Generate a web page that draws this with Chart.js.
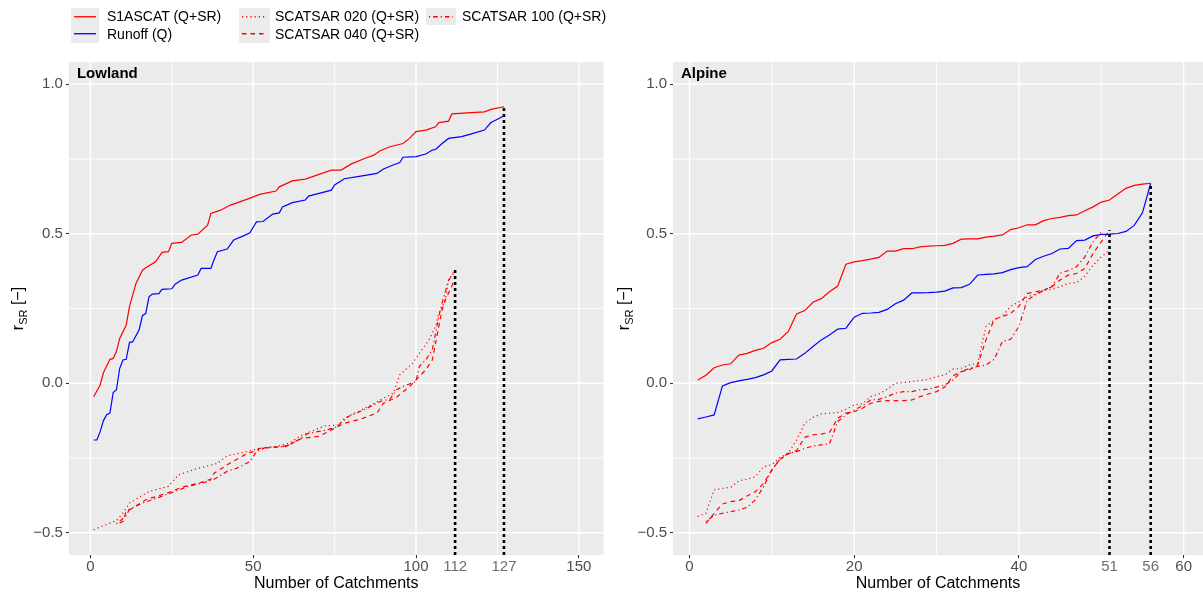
<!DOCTYPE html>
<html>
<head>
<meta charset="utf-8">
<script src="https://cdn.jsdelivr.net/npm/chart.js@4/dist/chart.umd.min.js"></script>
<style>
  html, body { margin: 0; padding: 0; background: #fff; }
  #wrap { position: relative; width: 1203px; height: 597px; overflow: hidden;
          font-family: "Liberation Sans", Arial, sans-serif; }
  #cl { position: absolute; left: 0; top: 0; }
  #cr { position: absolute; left: 607px; top: 0; }
  .key { position: absolute; background: #ebebeb; }
  .lab { position: absolute; font-size: 14px; line-height: 18px; color: #000; white-space: nowrap; }
</style>
</head>
<body>
<div id="wrap">
  <canvas id="cl" width="607" height="597" style="width:607px;height:597px"></canvas>
  <canvas id="cr" width="596" height="597" style="width:596px;height:597px"></canvas>
  <div id="legend"></div>
</div>
<script>
// ---------------- Lowland catchments (rank, r_SR) ----------------
const lowlandS1ascatN = [1,3,4,6,7,8,9,11,12,14,16,17,20,22,24,25,28,31,33,36,37,40,43,48,52,57,58,62,66,74,77,80,84,87,89,92,96,98,100,103,106,107,110,111,117,121,123,127];
const lowlandS1ascat  = [-0.045,-0.006,0.035,0.080,0.083,0.106,0.150,0.195,0.256,0.334,0.378,0.386,0.406,0.438,0.440,0.468,0.471,0.496,0.499,0.529,0.568,0.579,0.596,0.615,0.632,0.643,0.657,0.677,0.683,0.713,0.713,0.733,0.751,0.763,0.778,0.791,0.802,0.819,0.842,0.847,0.858,0.872,0.877,0.901,0.905,0.908,0.916,0.925];

const lowlandRunoffN = [1,2,3,4,5,6,7,8,9,10,11,12,13,15,16,17,18,19,21,22,25,26,28,33,34,37,38,39,42,44,47,49,51,53,56,58,59,62,66,67,72,74,75,78,83,88,90,93,95,96,100,103,105,106,108,110,114,117,121,123,125,127];
const lowlandRunoff  = [-0.190,-0.190,-0.162,-0.125,-0.105,-0.100,-0.031,-0.022,0.050,0.078,0.080,0.136,0.139,0.180,0.227,0.233,0.289,0.298,0.300,0.314,0.316,0.331,0.345,0.362,0.384,0.384,0.414,0.440,0.449,0.479,0.493,0.503,0.540,0.541,0.566,0.570,0.590,0.604,0.613,0.626,0.640,0.646,0.663,0.684,0.693,0.702,0.717,0.730,0.738,0.756,0.758,0.767,0.780,0.782,0.802,0.819,0.825,0.834,0.847,0.872,0.883,0.895];

const lowlandSar020N = [1,8,10,12,18,24,27,32,39,42,48,52,57,61,65,72,76,80,85,90,93,95,99,101,104,106,107,109,110,112];
const lowlandSar020  = [-0.490,-0.459,-0.435,-0.401,-0.362,-0.345,-0.307,-0.288,-0.268,-0.243,-0.229,-0.218,-0.212,-0.201,-0.173,-0.143,-0.140,-0.106,-0.080,-0.050,-0.034,0.028,0.067,0.100,0.145,0.190,0.234,0.279,0.345,0.379];

const lowlandSar040N = [9,10,11,13,17,24,28,33,37,38,42,48,50,52,59,61,65,70,75,78,83,88,90,94,98,100,103,105,106,107,108,109,110,111,112];
const lowlandSar040  = [-0.467,-0.463,-0.428,-0.418,-0.390,-0.366,-0.348,-0.335,-0.321,-0.301,-0.273,-0.236,-0.229,-0.218,-0.212,-0.206,-0.184,-0.178,-0.151,-0.134,-0.120,-0.100,-0.067,-0.047,-0.011,0.011,0.045,0.078,0.134,0.190,0.245,0.279,0.302,0.324,0.357];

const lowlandSar100N = [8,11,12,16,20,26,30,35,38,42,45,49,51,54,60,63,67,72,76,78,84,89,92,94,96,100,101,103,105,106,107,108,110,112];
const lowlandSar100  = [-0.470,-0.444,-0.421,-0.401,-0.386,-0.362,-0.345,-0.332,-0.321,-0.295,-0.284,-0.262,-0.229,-0.214,-0.212,-0.195,-0.167,-0.158,-0.145,-0.117,-0.089,-0.061,-0.053,-0.022,-0.011,0.006,0.056,0.078,0.112,0.167,0.223,0.268,0.345,0.373];

const lowlandCountSar = 112;   // catchments covered by SCATSAR
const lowlandCountAll = 127;   // catchments covered by S1ASCAT / runoff

// ---------------- Alpine catchments (values by rank) ----------------
const alpineS1ascat = [0.011,0.027,0.052,0.061,0.065,0.094,0.100,0.110,0.117,0.136,
  0.147,0.173,0.232,0.243,0.271,0.283,0.306,0.325,0.398,0.406,
  0.410,0.415,0.421,0.442,0.442,0.450,0.450,0.456,0.459,0.460,
  0.461,0.468,0.482,0.483,0.483,0.489,0.492,0.496,0.514,0.520,
  0.530,0.530,0.544,0.551,0.555,0.561,0.563,0.577,0.590,0.606,
  0.613,0.633,0.652,0.662,0.666,0.669];
const alpineRunoff = [-0.119,-0.113,-0.106,-0.009,0.002,0.008,0.013,0.019,0.028,0.041,
  0.078,0.080,0.081,0.100,0.123,0.145,0.161,0.181,0.184,0.221,
  0.234,0.235,0.237,0.247,0.266,0.278,0.302,0.302,0.303,0.305,
  0.308,0.319,0.320,0.331,0.362,0.364,0.366,0.370,0.380,0.387,
  0.390,0.414,0.425,0.434,0.449,0.451,0.477,0.479,0.493,0.498,
  0.499,0.501,0.508,0.528,0.570,0.669];
const alpineSar020 = [-0.446,-0.435,-0.357,-0.352,-0.348,-0.326,-0.321,-0.313,-0.279,-0.273,
  -0.248,-0.234,-0.190,-0.134,-0.114,-0.103,-0.100,-0.098,-0.087,-0.073,
  -0.069,-0.045,-0.036,-0.020,0.000,0.002,0.006,0.009,0.013,0.022,
  0.028,0.047,0.050,0.061,0.067,0.190,0.212,0.225,0.257,0.273,
  0.289,0.298,0.311,0.314,0.323,0.334,0.336,0.358,0.395,0.423,0.445];
const alpineSar040 = [-0.469,-0.435,-0.404,-0.396,-0.393,-0.377,-0.363,-0.335,-0.290,-0.254,
  -0.237,-0.225,-0.181,-0.173,-0.170,-0.165,-0.117,-0.100,-0.095,-0.084,
  -0.067,-0.061,-0.058,-0.058,-0.058,-0.056,-0.045,-0.036,-0.028,-0.013,
  0.025,0.039,0.045,0.061,0.145,0.214,0.223,0.234,0.257,0.300,
  0.306,0.311,0.323,0.345,0.362,0.367,0.384,0.434,0.473,0.512];
const alpineSar100 = [-0.463,-0.441,-0.435,-0.430,-0.424,-0.415,-0.390,-0.346,-0.290,-0.254,
  -0.234,-0.229,-0.218,-0.210,-0.206,-0.203,-0.128,-0.106,-0.089,-0.076,
  -0.056,-0.054,-0.045,-0.033,-0.028,-0.028,-0.022,-0.020,-0.013,-0.006,
  0.011,0.039,0.050,0.056,0.061,0.080,0.140,0.147,0.190,0.278,
  0.295,0.311,0.323,0.368,0.377,0.390,0.423,0.473,0.506];
const alpineSar020FirstRank = 1;
const alpineSar040FirstRank = 2;
const alpineSar100FirstRank = 2;
const alpineCountSar = 51;
const alpineCountAll = 56;

// ---------------- Axis breaks ----------------
const yBreaks = [-0.5, 0, 0.5, 1.0];
const yMinorBreaks = [-0.25, 0.25, 0.75];
const lowlandXBreaks = [0, 50, 100, 150];
const lowlandXMinorBreaks = [25, 75, 125];
const alpineXBreaks = [0, 20, 40, 60];
const alpineXMinorBreaks = [10, 30, 50];

// ---------------- Styling ----------------
const FONT = '"Liberation Sans", Arial, sans-serif';
const RED = '#ff0000', BLUE = '#0000ff';
const series = {
  s1:     { label: 'S1ASCAT (Q+SR)',     color: RED,  dash: [] },
  runoff: { label: 'Runoff (Q)',         color: BLUE, dash: [] },
  sar020: { label: 'SCATSAR 020 (Q+SR)', color: RED,  dash: [1.2, 3] },
  sar040: { label: 'SCATSAR 040 (Q+SR)', color: RED,  dash: [4.5, 4] },
  sar100: { label: 'SCATSAR 100 (Q+SR)', color: RED,  dash: [1.2, 3, 4.5, 3] }
};
const Y_MIN = -0.575, Y_MAX = 1.075;

function pairs(xs, ys) { return ys.map((y, i) => ({ x: xs[i], y })); }
function ranked(ys, first) { return ys.map((y, i) => ({ x: first + i, y })); }
function lineSet(points, key) {
  const s = series[key];
  return { label: s.label, data: points, borderColor: s.color, borderWidth: 1.2,
           borderDash: s.dash, pointRadius: 0, tension: 0, fill: false };
}
function countLine(n, top) {
  return { data: [{ x: n, y: Y_MIN }, { x: n, y: top }], borderColor: '#000',
           borderWidth: 2.6, borderDash: [3, 3], pointRadius: 0, fill: false };
}
function lastOf(a) { return a[a.length - 1]; }

// Panel background, grid and annotations
const panelDecor = {
  id: 'panelDecor',
  beforeDraw(chart, args, o) {
    const { ctx, chartArea: a, scales: { x, y } } = chart;
    ctx.save();
    ctx.fillStyle = '#ebebeb';
    ctx.fillRect(a.left, a.top, a.right - a.left, a.bottom - a.top);
    ctx.strokeStyle = '#ffffff';
    const v = (val, w) => { const p = x.getPixelForValue(val); ctx.lineWidth = w;
      ctx.beginPath(); ctx.moveTo(p, a.top); ctx.lineTo(p, a.bottom); ctx.stroke(); };
    const h = (val, w) => { const p = y.getPixelForValue(val); ctx.lineWidth = w;
      ctx.beginPath(); ctx.moveTo(a.left, p); ctx.lineTo(a.right, p); ctx.stroke(); };
    o.xMinor.forEach(b => v(b, 0.9));
    yMinorBreaks.forEach(b => h(b, 0.9));
    o.xMajor.forEach(b => v(b, 1.4));
    yBreaks.forEach(b => h(b, 1.4));
    ctx.restore();
  },
  afterDraw(chart, args, o) {
    const { ctx, chartArea: a } = chart;
    ctx.save();
    // panel strip label
    ctx.fillStyle = '#000';
    ctx.font = 'bold 15px ' + FONT;
    ctx.textAlign = 'left';
    ctx.textBaseline = 'middle';
    ctx.fillText(o.panel, a.left + 8, a.top + 12);
    // y-axis title: r with subscript SR
    const cy = (a.top + a.bottom) / 2;
    ctx.translate(o.titleX, cy);
    ctx.rotate(-Math.PI / 2);
    ctx.font = '16px ' + FONT;
    const w1 = ctx.measureText('r').width;
    const w3 = ctx.measureText(' [\u2212]').width;
    ctx.font = '11px ' + FONT;
    const w2 = ctx.measureText('SR').width;
    let sx = -(w1 + w2 + w3) / 2;
    ctx.textBaseline = 'alphabetic';
    ctx.font = '16px ' + FONT;
    ctx.fillText('r', sx, 5);
    ctx.font = '11px ' + FONT;
    ctx.fillText('SR', sx + w1, 9);
    ctx.font = '16px ' + FONT;
    ctx.fillText(' [\u2212]', sx + w1 + w2, 5);
    ctx.restore();
  }
};

function makePanel(id, p) {
  const marks = p.marks;
  return new Chart(document.getElementById(id), {
    type: 'line',
    data: { datasets: p.datasets },
    options: {
      responsive: false, animation: false, events: [],
      layout: { padding: { left: 0, top: 61.9, right: p.padRight, bottom: 0 } },
      plugins: {
        legend: { display: false }, tooltip: { enabled: false },
        panelDecor: { panel: p.panel, titleX: p.titleX, xMajor: p.xMajor, xMinor: p.xMinor }
      },
      scales: {
        x: {
          type: 'linear', min: p.xMin, max: p.xMax,
          afterBuildTicks: s => { s.ticks = p.xMajor.concat(marks).sort((a, b) => a - b).map(v => ({ value: v })); },
          afterFit: s => { s.height = 41.9; },
          border: { display: false },
          grid: { drawOnChartArea: false, drawTicks: true, tickLength: 3, tickWidth: 1.1,
                  tickColor: c => (c.tick && marks.includes(c.tick.value)) ? 'rgba(0,0,0,0)' : '#333333' },
          ticks: { autoSkip: false, maxRotation: 0, minRotation: 0, padding: 1,
                   font: { family: FONT, size: 15, lineHeight: 1 },
                   color: c => (c.tick && marks.includes(c.tick.value)) ? '#6e6e6e' : '#4d4d4d',
                   callback: v => String(v) },
          title: { display: true, text: 'Number of Catchments', color: '#000',
                   font: { family: FONT, size: 16 }, padding: { top: 0, bottom: 4 } }
        },
        y: {
          type: 'linear', min: Y_MIN, max: Y_MAX,
          afterBuildTicks: s => { s.ticks = yBreaks.map(v => ({ value: v })); },
          afterFit: s => { s.width = p.yWidth; },
          border: { display: false },
          grid: { drawOnChartArea: false, drawTicks: true, tickLength: 3, tickWidth: 1.1, tickColor: '#333333' },
          ticks: { padding: 3, font: { family: FONT, size: 15 }, color: '#4d4d4d',
                   callback: v => (v < 0 ? '\u2212' : '') + Math.abs(v).toFixed(1) }
        }
      }
    },
    plugins: [panelDecor]
  });
}

// Lowland panel
makePanel('cl', {
  panel: 'Lowland', titleX: 18, yWidth: 68.9, padRight: 3.4,
  xMin: -6.6, xMax: 157.6, xMajor: lowlandXBreaks, xMinor: lowlandXMinorBreaks,
  marks: [lowlandCountSar, lowlandCountAll],
  datasets: [
    countLine(lowlandCountSar, Math.max(lastOf(lowlandSar020), lastOf(lowlandSar040), lastOf(lowlandSar100))),
    countLine(lowlandCountAll, Math.max(lastOf(lowlandS1ascat), lastOf(lowlandRunoff))),
    lineSet(pairs(lowlandS1ascatN, lowlandS1ascat), 's1'),
    lineSet(pairs(lowlandRunoffN, lowlandRunoff), 'runoff'),
    lineSet(pairs(lowlandSar020N, lowlandSar020), 'sar020'),
    lineSet(pairs(lowlandSar040N, lowlandSar040), 'sar040'),
    lineSet(pairs(lowlandSar100N, lowlandSar100), 'sar100')
  ]
});

// Alpine panel
makePanel('cr', {
  panel: 'Alpine', titleX: 17, yWidth: 66, padRight: 0,
  xMin: -2, xMax: 62.35, xMajor: alpineXBreaks, xMinor: alpineXMinorBreaks,
  marks: [alpineCountSar, alpineCountAll],
  datasets: [
    countLine(alpineCountSar, Math.max(lastOf(alpineSar020), lastOf(alpineSar040), lastOf(alpineSar100))),
    countLine(alpineCountAll, Math.max(lastOf(alpineS1ascat), lastOf(alpineRunoff))),
    lineSet(ranked(alpineS1ascat, 1), 's1'),
    lineSet(ranked(alpineRunoff, 1), 'runoff'),
    lineSet(ranked(alpineSar020, alpineSar020FirstRank), 'sar020'),
    lineSet(ranked(alpineSar040, alpineSar040FirstRank), 'sar040'),
    lineSet(ranked(alpineSar100, alpineSar100FirstRank), 'sar100')
  ]
});

// Legend (three columns, ggplot-style keys)
const legendColumns = [
  { keyX: 71,  keyW: 28, textX: 107, items: ['s1', 'runoff'] },
  { keyX: 239, keyW: 31, textX: 275, items: ['sar020', 'sar040'] },
  { keyX: 426, keyW: 30, textX: 462, items: ['sar100'] }
];
const legendRowTop = 7.5, legendRowH = 17.5;
const legendEl = document.getElementById('legend');
legendColumns.forEach(col => {
  col.items.forEach((k, r) => {
    const s = series[k];
    const top = legendRowTop + r * legendRowH;
    const key = document.createElement('div');
    key.className = 'key';
    key.style.left = col.keyX + 'px'; key.style.top = top + 'px';
    key.style.width = col.keyW + 'px'; key.style.height = legendRowH + 'px';
    const ns = 'http://www.w3.org/2000/svg';
    const svg = document.createElementNS(ns, 'svg');
    svg.setAttribute('width', col.keyW); svg.setAttribute('height', legendRowH);
    svg.style.position = 'absolute'; svg.style.left = '0'; svg.style.top = '0';
    const ln = document.createElementNS(ns, 'line');
    ln.setAttribute('x1', 3); ln.setAttribute('x2', col.keyW - 3);
    ln.setAttribute('y1', legendRowH / 2); ln.setAttribute('y2', legendRowH / 2);
    ln.setAttribute('stroke', s.color); ln.setAttribute('stroke-width', 1.3);
    if (s.dash.length) ln.setAttribute('stroke-dasharray', s.dash.join(' '));
    svg.appendChild(ln); key.appendChild(svg); legendEl.appendChild(key);
    const lab = document.createElement('div');
    lab.className = 'lab';
    lab.style.left = col.textX + 'px';
    lab.style.top = (top + legendRowH / 2 - 9) + 'px';
    lab.textContent = s.label;
    legendEl.appendChild(lab);
  });
});
</script>
</body>
</html>
